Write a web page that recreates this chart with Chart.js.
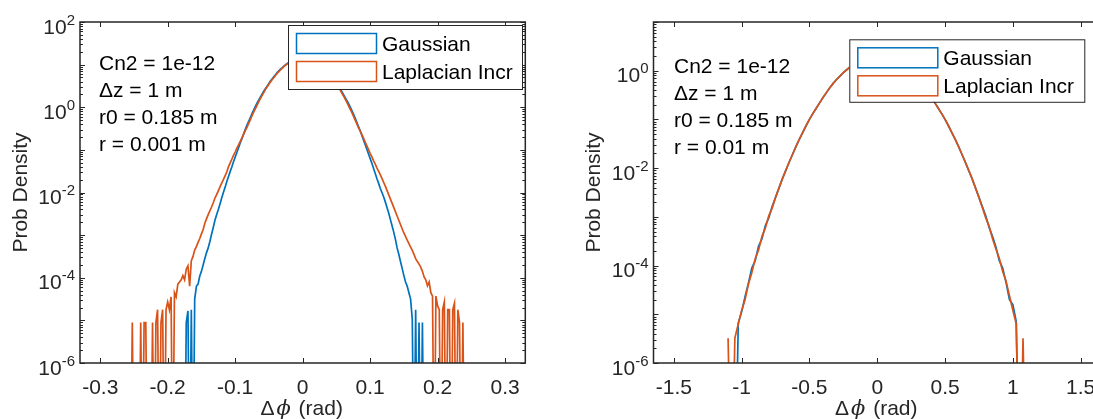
<!DOCTYPE html>
<html lang="en">
<head>
<meta charset="utf-8">
<title>Prob Density - Gaussian vs Laplacian Incr</title>
<script src="https://cdn.jsdelivr.net/npm/chart.js@4.4.1/dist/chart.umd.min.js"></script>
<style>
  html, body { margin: 0; padding: 0; background: #fff; }
  body { width: 1093px; height: 419px; overflow: hidden; position: relative; }
  .panel { position: absolute; top: 0; height: 419px; }
</style>
</head>
<body>
<div class="panel" style="left:0;width:546px"><canvas id="left" width="546" height="419"></canvas></div>
<div class="panel" style="left:546px;width:600px"><canvas id="right" width="600" height="419"></canvas></div>
<script>
// ---------------- left panel, r = 0.001 m ----------------
// histogram bins every 0.0025 rad from -0.26 to 0.24 (8 bins per row)
var leftBinStart = -0.26, leftBinStep = 0.0025;
var leftXRange = [-0.33, 0.33];
var leftXTicks = [-0.3, -0.2, -0.1, 0, 0.1, 0.2, 0.3];
var leftYExpRange = [-6, 2];
var leftYLabelExps = [-6, -4, -2, 0, 2];
// log10(prob density) per bin, null = empty bin
var leftGaussLog = [
  null, null, null, null, null, null, null, null,
  null, null, null, null, null, null, null, null,
  null, null, null, null, null, null, null, null,
  null, null, null, null, null, null, null, null,
  null, null, null, -5.05, -4.78, null, -4.75, null,
  -4.5, -4.2, -4.15, -3.96, -3.85, -3.7, -3.55, -3.41,
  -3.3, -3.15, -2.98, -2.82, -2.65, -2.52, -2.4, -2.27,
  -2.13, -2.0, -1.88, -1.75, -1.63, -1.51, -1.4, -1.28,
  -1.17, -1.06, -0.95, -0.84, -0.74, -0.63, -0.52, -0.42,
  -0.33, -0.24, -0.15, -0.06, 0.02, 0.1, 0.17, 0.24,
  0.31, 0.38, 0.44, 0.5, 0.56, 0.62, 0.67, 0.72,
  0.77, 0.82, 0.86, 0.9, 0.93, 0.97, 1.0, 1.03,
  1.05, 1.07, 1.09, 1.11, 1.12, 1.13, 1.14, 1.15,
  1.15, 1.15, 1.14, 1.13, 1.12, 1.11, 1.09, 1.07,
  1.05, 1.03, 1.0, 0.97, 0.93, 0.9, 0.86, 0.82,
  0.77, 0.72, 0.67, 0.62, 0.56, 0.5, 0.44, 0.38,
  0.31, 0.24, 0.17, 0.1, 0.02, -0.06, -0.15, -0.24,
  -0.34, -0.44, -0.54, -0.65, -0.76, -0.87, -0.98, -1.09,
  -1.2, -1.31, -1.43, -1.55, -1.67, -1.78, -1.9, -2.0,
  -2.1, -2.22, -2.35, -2.48, -2.63, -2.78, -2.93, -3.1,
  -3.3, -3.45, -3.62, -3.78, -3.95, -4.1, -4.2, -4.35,
  -4.5, -4.98, null, -4.75, null, -5.05, null, -5.05,
  null, null, null, null, null, null, null, null,
  null, null, null, null, null, null, null, null,
  null, null, null, null, null, null, null, null,
  null
];
var leftLaplaceLog = [
  null, null, null, -5.05, null, null, null, null,
  -5.05, null, -5.05, -5.05, null, null, null, -5.05,
  null, -5.05, -4.75, null, -5.05, -4.75, null, -4.75,
  -4.57, -4.75, -4.45, null, -4.35, -4.45, -4.15, -4.1,
  -4.05, -3.95, -4.05, -3.8, -3.72, -4.2, -3.6, -3.5,
  -3.35, -3.27, -3.17, -3.08, -2.97, -2.87, -2.72, -2.62,
  -2.52, -2.43, -2.34, -2.24, -2.13, -2.05, -1.96, -1.87,
  -1.78, -1.7, -1.61, -1.52, -1.4, -1.31, -1.22, -1.13,
  -1.05, -0.96, -0.88, -0.8, -0.72, -0.63, -0.55, -0.47,
  -0.38, -0.29, -0.2, -0.11, -0.03, 0.05, 0.13, 0.21,
  0.28, 0.35, 0.42, 0.48, 0.54, 0.6, 0.65, 0.7,
  0.75, 0.8, 0.84, 0.88, 0.92, 0.96, 0.99, 1.02,
  1.04, 1.06, 1.08, 1.1, 1.11, 1.12, 1.12, 1.13,
  1.13, 1.13, 1.12, 1.12, 1.11, 1.1, 1.08, 1.06,
  1.04, 1.02, 0.99, 0.96, 0.92, 0.88, 0.84, 0.8,
  0.75, 0.7, 0.65, 0.6, 0.54, 0.48, 0.42, 0.35,
  0.28, 0.21, 0.13, 0.05, -0.03, -0.11, -0.2, -0.29,
  -0.38, -0.47, -0.55, -0.63, -0.72, -0.81, -0.9, -0.99,
  -1.08, -1.16, -1.25, -1.33, -1.42, -1.5, -1.58, -1.67,
  -1.76, -1.85, -1.95, -2.05, -2.15, -2.25, -2.35, -2.45,
  -2.55, -2.65, -2.75, -2.85, -2.95, -3.03, -3.12, -3.2,
  -3.28, -3.36, -3.45, -3.55, -3.62, -3.68, -3.75, -3.85,
  -3.98, -4.05, -4.19, -4.1, -4.35, -4.43, null, -4.43,
  -4.66, -4.75, null, -4.75, -4.57, null, -4.75, -4.75,
  null, -4.75, -4.6, null, -4.75, -5.05, null, -5.05,
  null
];
var leftNotes = ['Cn2 = 1e-12', '\u0394z = 1 m', 'r0 = 0.185 m', 'r = 0.001 m'];

// ---------------- right panel, r = 0.01 m ----------------
// bins every 0.025 rad from -1.1 to 1.1
var rightBinStart = -1.1, rightBinStep = 0.025;
var rightXRange = [-1.65, 1.65];
var rightXTicks = [-1.5, -1, -0.5, 0, 0.5, 1, 1.5];
var rightYExpRange = [-6, 1];
var rightYLabelExps = [-6, -4, -2, 0];
var rightGaussLog = [
  null, null, null, -5.18, -4.95, -4.64, -4.36, -4.05, -3.9, -3.6,
  -3.45, -3.18, -3.02, -2.79, -2.6, -2.41, -2.22, -2.05, -1.88, -1.72,
  -1.56, -1.41, -1.27, -1.13, -1.0, -0.88, -0.77, -0.66, -0.55, -0.45,
  -0.35, -0.26, -0.18, -0.11, -0.04, 0.02, 0.08, 0.13, 0.17, 0.21,
  0.24, 0.26, 0.27, 0.28, 0.28, 0.28, 0.27, 0.26, 0.24, 0.21,
  0.17, 0.13, 0.08, 0.02, -0.04, -0.11, -0.18, -0.26, -0.35, -0.45,
  -0.55, -0.66, -0.77, -0.88, -1.0, -1.13, -1.27, -1.41, -1.56, -1.72,
  -1.88, -2.05, -2.22, -2.41, -2.6, -2.79, -2.98, -3.22, -3.4, -3.62,
  -3.9, -4.05, -4.35, -4.7, -4.8, -5.15, null, null, null
];
var rightLaplaceLog = [
  -5.49, null, -5.49, -5.2, -4.92, -4.7, -4.38, -4.15, -3.86, -3.68,
  -3.4, -3.23, -2.98, -2.82, -2.6, -2.41, -2.22, -2.05, -1.88, -1.72,
  -1.56, -1.41, -1.27, -1.13, -1.0, -0.88, -0.77, -0.66, -0.55, -0.45,
  -0.35, -0.26, -0.18, -0.11, -0.04, 0.02, 0.08, 0.13, 0.17, 0.21,
  0.24, 0.26, 0.27, 0.28, 0.28, 0.28, 0.27, 0.26, 0.24, 0.21,
  0.17, 0.13, 0.08, 0.02, -0.04, -0.11, -0.18, -0.26, -0.35, -0.45,
  -0.55, -0.66, -0.77, -0.88, -1.0, -1.13, -1.27, -1.41, -1.56, -1.72,
  -1.88, -2.05, -2.22, -2.41, -2.6, -2.81, -3.02, -3.19, -3.45, -3.66,
  -3.85, -4.12, -4.32, -4.62, -4.92, -5.2, null, -5.49, null
];
var rightNotes = ['Cn2 = 1e-12', '\u0394z = 1 m', 'r0 = 0.185 m', 'r = 0.01 m'];

var BLUE = '#0072BD';
var ORANGE = '#D95319';
var AXIS = '#262626';
var FONT = '"Liberation Sans", Arial, Helvetica, sans-serif';
var EMPTY_BIN = 1e-9; // empty bins fall below the axis, like log(0)

function toPoints(start, step, logs) {
  return logs.map(function (v, i) {
    return { x: +(start + i * step).toFixed(4), y: v === null ? EMPTY_BIN : Math.pow(10, v) };
  });
}

// matlab style box, inward ticks, 10^n labels, titles, notes and legend
var matlabAxes = {
  id: 'matlabAxes',
  afterDatasetsDraw: function (chart, args, o) {
    var ctx = chart.ctx, a = chart.chartArea;
    var xs = chart.scales.x, ys = chart.scales.y;
    ctx.save();

    // ticks
    ctx.strokeStyle = AXIS;
    ctx.lineWidth = 1;
    ctx.beginPath();
    o.xTicks.forEach(function (v) {
      var px = Math.round(xs.getPixelForValue(v)) + 0.5;
      ctx.moveTo(px, a.bottom); ctx.lineTo(px, a.bottom - 5);
      ctx.moveTo(px, a.top); ctx.lineTo(px, a.top + 5);
    });
    for (var e = o.yExp[0]; e <= o.yExp[1]; e++) {
      for (var k = 1; k < 10; k++) {
        if (e === o.yExp[1] && k > 1) break;
        var py = Math.round(ys.getPixelForValue(k * Math.pow(10, e))) + 0.5;
        var len = k === 1 ? 5 : 3;
        ctx.moveTo(a.left, py); ctx.lineTo(a.left + len, py);
        ctx.moveTo(a.right, py); ctx.lineTo(a.right - len, py);
      }
    }
    ctx.stroke();

    // box
    ctx.lineWidth = 1.5;
    ctx.strokeRect(a.left, a.top, a.right - a.left, a.bottom - a.top);

    // x tick labels
    ctx.fillStyle = AXIS;
    ctx.font = '21px ' + FONT;
    ctx.textAlign = 'center';
    ctx.textBaseline = 'alphabetic';
    o.xTicks.forEach(function (v) {
      ctx.fillText(String(v), xs.getPixelForValue(v), a.bottom + 31);
    });

    // y tick labels 10^n
    o.yLabels.forEach(function (e) {
      var py = ys.getPixelForValue(Math.pow(10, e));
      ctx.font = '15px ' + FONT;
      var ew = ctx.measureText(String(e)).width;
      ctx.font = '21px ' + FONT;
      var bw = ctx.measureText('10').width;
      var right = a.left - 5;
      ctx.textAlign = 'left';
      ctx.fillText('10', right - ew - bw, py + 11.5);
      ctx.font = '15px ' + FONT;
      ctx.fillText(String(e), right - ew, py + 2.5);
    });

    // y title
    ctx.save();
    ctx.font = '21px ' + FONT;
    ctx.textAlign = 'center';
    ctx.textBaseline = 'middle';
    ctx.translate(o.yTitleX, (a.top + a.bottom) / 2);
    ctx.rotate(-Math.PI / 2);
    ctx.fillText('Prob Density', 0, 0);
    ctx.restore();

    // x title: delta phi (rad)
    var parts = [['\u0394', '21px ' + FONT], ['\u03D5', 'italic 21px "DejaVu Serif", serif'], [' (rad)', '21px ' + FONT]];
    var total = 0;
    parts.forEach(function (p) { ctx.font = p[1]; p.push(ctx.measureText(p[0]).width + 2); total += p[2]; });
    var tx = (a.left + a.right) / 2 - total / 2;
    ctx.textAlign = 'left';
    parts.forEach(function (p) { ctx.font = p[1]; ctx.fillText(p[0], tx, o.xTitleY); tx += p[2]; });

    // notes
    ctx.fillStyle = '#000';
    ctx.font = '21px ' + FONT;
    o.notes.lines.forEach(function (t, i) {
      ctx.fillText(t, o.notes.x, o.notes.y + i * o.notes.dy);
    });

    // legend
    var L = o.legend;
    ctx.fillStyle = '#fff';
    ctx.fillRect(L.x, L.y, L.w, L.h);
    ctx.strokeStyle = AXIS;
    ctx.lineWidth = 1;
    ctx.strokeRect(L.x + 0.5, L.y + 0.5, L.w, L.h);
    chart.data.datasets.forEach(function (ds, i) {
      var ry = L.y + 8 + i * 28;
      ctx.strokeStyle = ds.borderColor;
      ctx.lineWidth = 1.5;
      ctx.strokeRect(L.x + 8.5, ry + 0.5, 80, 20);
      ctx.fillStyle = '#000';
      ctx.font = '21px ' + FONT;
      ctx.fillText(ds.label, L.x + 94, ry + 18);
    });

    ctx.restore();
  }
};

function makePanel(id, p) {
  return new Chart(document.getElementById(id), {
    type: 'line',
    data: {
      datasets: [
        { label: 'Gaussian', data: toPoints(p.start, p.step, p.gauss), borderColor: BLUE, order: 1 },
        { label: 'Laplacian Incr', data: toPoints(p.start, p.step, p.laplace), borderColor: ORANGE, order: 0 }
      ]
    },
    options: {
      responsive: false,
      animation: false,
      devicePixelRatio: 1,
      layout: { padding: p.padding },
      elements: {
        point: { radius: 0 },
        line: { borderWidth: 1.7, tension: 0, fill: false }
      },
      scales: {
        x: { type: 'linear', display: false, min: p.xRange[0], max: p.xRange[1] },
        y: { type: 'logarithmic', display: false, min: Math.pow(10, p.yExp[0]), max: Math.pow(10, p.yExp[1]) }
      },
      plugins: {
        legend: { display: false },
        tooltip: { enabled: false },
        matlabAxes: p.deco
      }
    },
    plugins: [matlabAxes]
  });
}

makePanel('left', {
  start: leftBinStart, step: leftBinStep,
  gauss: leftGaussLog, laplace: leftLaplaceLog,
  xRange: leftXRange, yExp: leftYExpRange,
  padding: { left: 80, right: 20.7, top: 22, bottom: 56 },
  deco: {
    xTicks: leftXTicks, yExp: leftYExpRange, yLabels: leftYLabelExps,
    yTitleX: 21, xTitleY: 415,
    notes: { lines: leftNotes, x: 99, y: 70, dy: 27 },
    legend: { x: 288, y: 25, w: 234, h: 64 }
  }
});

makePanel('right', {
  start: rightBinStart, step: rightBinStep,
  gauss: rightGaussLog, laplace: rightLaplaceLog,
  xRange: rightXRange, yExp: rightYExpRange,
  padding: { left: 107.5, right: 45, top: 22, bottom: 56 },
  deco: {
    xTicks: rightXTicks, yExp: rightYExpRange, yLabels: rightYLabelExps,
    yTitleX: 48.5, xTitleY: 415,
    notes: { lines: rightNotes, x: 128, y: 72.7, dy: 27.2 },
    legend: { x: 303.3, y: 39.3, w: 235, h: 62.5 }
  }
});
</script>
</body>
</html>
